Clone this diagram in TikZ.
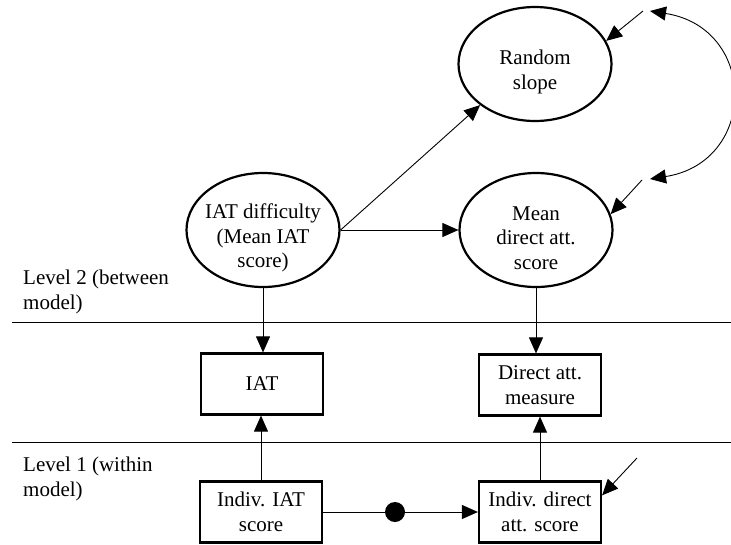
\documentclass[tikz,border=0pt]{standalone}
\usepackage{fontspec}
\setmainfont{Liberation Serif}
\usetikzlibrary{arrows.meta,shapes.geometric}
\begin{document}
\begin{tikzpicture}[x=1pt,y=-1pt,
  every node/.style={font=\fontsize{21}{24.5}\selectfont},
  ell/.style={draw,ellipse,line width=2.2pt,inner sep=0pt,minimum width=153pt,minimum height=114pt},
  eltext/.style={align=center,yshift=-8pt},
  bx/.style={draw,rectangle,line width=2.2pt,inner sep=0pt,minimum width=122pt,minimum height=61pt,align=center},
  arr/.style={line width=0.9pt,-{Triangle[length=16pt,width=14pt]}},
  dbl/.style={line width=0.9pt,{Triangle[length=16pt,width=14pt]}-{Triangle[length=16pt,width=14pt]}},
  lvl/.style={anchor=north west,inner sep=0pt,align=left},
  sep/.style={line width=0.9pt}]
\useasboundingbox (0,0) rectangle (731,544);
% ellipses
\node[ell,label={[eltext]center:{Random\\slope}}] (rs) at (535,64) {};
\node[ell,label={[eltext]center:{Mean\\direct att.\\score}}] (md) at (536,230) {};
\node[ell,label={[eltext]center:{IAT difficulty\\(Mean IAT\\score)}}] (iatd) at (263,230) {};
% boxes
\node[bx] (iat) at (262,384) {IAT};
\node[bx] (dam) at (540,385) {Direct att.\\measure};
\node[bx] (ii) at (261,512) {Indiv. IAT\\score};
\node[bx] (id) at (540,512) {Indiv. direct\\att. score};
% level labels
\node[lvl] (l2) at (23,270) {Level 2 (between\\model)};
\node[lvl] (l1) at (23,457) {Level 1 (within\\model)};
% separators
\coordinate (s1a) at (12,322); \coordinate (s1b) at (731,322);
\coordinate (s2a) at (12,442); \coordinate (s2b) at (731,442);
\draw[sep] (s1a) -- (s1b);
\draw[sep] (s2a) -- (s2b);
% connectors
\draw[arr] (iatd.east) -- (rs.south west);
\draw[arr] (iatd.east) -- (md.west);
\draw[arr] (iatd.south) -- (iatd.south |- iat.north);
\draw[arr] (md.south) -- (md.south |- dam.north);
\draw[arr] (ii.north) -- (ii.north |- iat.south);
\draw[arr] (id.north) -- (id.north |- dam.south);
% dot on the path
\node[circle,fill=black,inner sep=0pt,minimum size=20pt] (dot) at (395,512) {};
\draw[line width=0.9pt] (ii.east) -- (dot);
\draw[arr] (dot) -- (id.west);
% residual arrows
\coordinate (e1) at (643,11);
\coordinate (e2) at (642,180);
\coordinate (e3) at (637,458);
\coordinate (c1) at (650,11);
\coordinate (c2) at (650,179);
\draw[arr] (e1) -- (rs.18);
\draw[arr] (e2) -- (md.12);
\draw[arr] (e3) -- (id.15);
\draw[dbl] (c1) .. controls (758,28) and (758,162) .. (c2);
\end{tikzpicture}
\end{document}
